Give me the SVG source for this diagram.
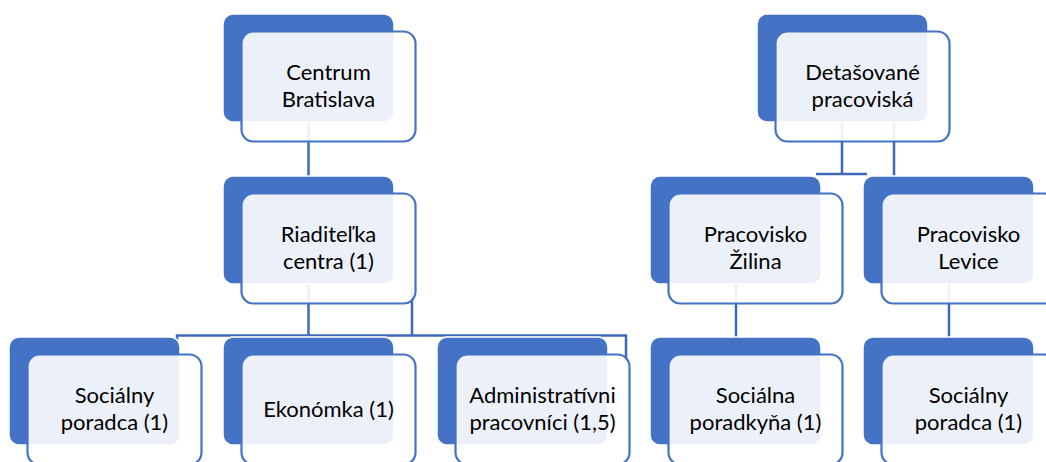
<svg xmlns="http://www.w3.org/2000/svg" width="1046" height="462" viewBox="0 0 1046 462">
<style>
.back{fill:#4472C4;stroke:#fff;stroke-width:1.5}
.front{fill:#fff;fill-opacity:0.9;stroke:#4472C4;stroke-width:2.2}
.conn{fill:none;stroke:#4068B8;stroke-width:2.5}
text{font-family:Lato,"Noto Sans",sans-serif;font-size:22px;fill:#000;text-anchor:middle}
</style>
<rect width="1046" height="462" fill="#fff"/>
<g id="connectors">
<path class="conn" d="M308.5 122V178"/>
<path class="conn" d="M308.5 283V335.5"/>
<path class="conn" d="M412 287V335.5"/>
<path class="conn" d="M177 345V335.5H626V362"/>
<path class="conn" d="M842 122V174"/>
<path class="conn" d="M816 174H867"/>
<path class="conn" d="M894 122V176"/>
<path class="conn" d="M736 284V338"/>
<path class="conn" d="M949 284V338"/>
</g>
<g id="centrum">
<rect class="back" x="223" y="14" width="171" height="108" rx="10"/>
<rect class="front" x="241.5" y="31.5" width="174" height="110" rx="12"/>
<text x="328.5" y="80">Centrum</text>
<text x="328.5" y="107">Bratislava</text>
</g>
<g id="riaditelka">
<rect class="back" x="223" y="176" width="171" height="108" rx="10"/>
<rect class="front" x="241.5" y="193.5" width="174" height="110" rx="12"/>
<text x="328.5" y="242">Riaditeľka</text>
<text x="328.5" y="269">centra (1)</text>
</g>
<g id="socialny-bratislava">
<rect class="back" x="9" y="337" width="171" height="108" rx="10"/>
<rect class="front" x="27.5" y="354.5" width="174" height="110" rx="12"/>
<text x="114.5" y="403">Sociálny</text>
<text x="114.5" y="430">poradca (1)</text>
</g>
<g id="ekonomka">
<rect class="back" x="223" y="337" width="171" height="108" rx="10"/>
<rect class="front" x="241.5" y="354.5" width="174" height="110" rx="12"/>
<text x="328.5" y="417">Ekonómka (1)</text>
</g>
<g id="administrativni">
<rect class="back" x="437" y="337" width="171" height="108" rx="10"/>
<rect class="front" x="455.5" y="354.5" width="174" height="110" rx="12"/>
<text x="542.5" y="403">Administratívni</text>
<text x="542.5" y="430">pracovníci (1,5)</text>
</g>
<g id="detasovane">
<rect class="back" x="757" y="14" width="171" height="108" rx="10"/>
<rect class="front" x="775.5" y="31.5" width="174" height="110" rx="12"/>
<text x="862.5" y="80">Detašované</text>
<text x="862.5" y="107">pracoviská</text>
</g>
<g id="zilina">
<rect class="back" x="650" y="176" width="171" height="108" rx="10"/>
<rect class="front" x="668.5" y="193.5" width="174" height="110" rx="12"/>
<text x="755.5" y="242">Pracovisko</text>
<text x="755.5" y="269">Žilina</text>
</g>
<g id="levice">
<rect class="back" x="863" y="176" width="171" height="108" rx="10"/>
<rect class="front" x="881.5" y="193.5" width="174" height="110" rx="12"/>
<text x="968.5" y="242">Pracovisko</text>
<text x="968.5" y="269">Levice</text>
</g>
<g id="socialna-zilina">
<rect class="back" x="650" y="337" width="171" height="108" rx="10"/>
<rect class="front" x="668.5" y="354.5" width="174" height="110" rx="12"/>
<text x="755.5" y="403">Sociálna</text>
<text x="755.5" y="430">poradkyňa (1)</text>
</g>
<g id="socialny-levice">
<rect class="back" x="863" y="337" width="171" height="108" rx="10"/>
<rect class="front" x="881.5" y="354.5" width="174" height="110" rx="12"/>
<text x="968.5" y="403">Sociálny</text>
<text x="968.5" y="430">poradca (1)</text>
</g>
</svg>
